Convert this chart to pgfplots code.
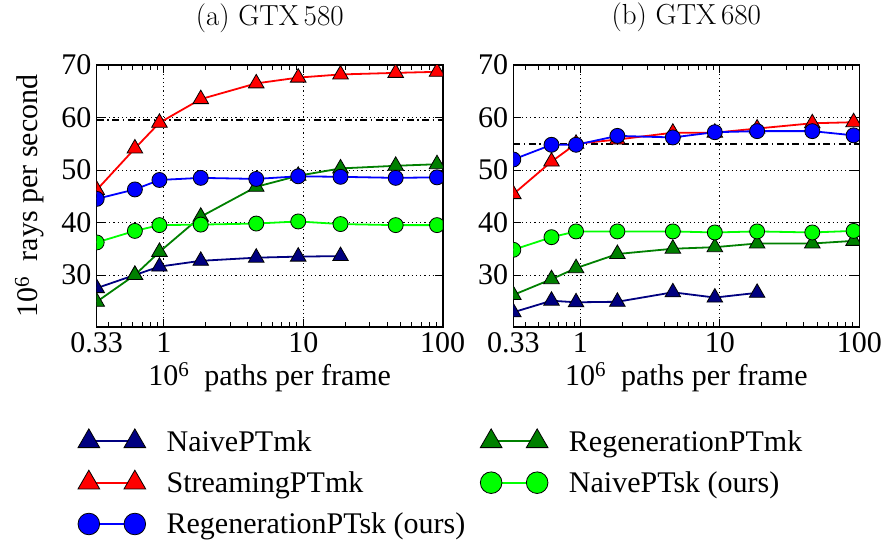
\documentclass[border=0pt]{standalone}
\usepackage{fontspec}
\usepackage{pgfplots}
\pgfplotsset{compat=1.18}
\newfontfamily\tnr{Liberation Serif}
\definecolor{navy}{RGB}{0,0,128}
\definecolor{dgreen}{RGB}{0,128,0}
\definecolor{mylime}{RGB}{0,255,0}
\definecolor{myred}{RGB}{255,0,0}
\definecolor{myblue}{RGB}{0,0,255}
\pgfplotsset{
  legend image code/.code={\draw[#1] plot coordinates {(0pt,0pt) (46pt,0pt)};},
  sNaive/.style={navy, line width=1.8pt, mark=triangle*, mark size=9pt, mark options={fill=navy, draw=black, line width=0.8pt}, legend image post style={mark size=12.5pt}},
  sRegMk/.style={dgreen, line width=1.8pt, mark=triangle*, mark size=9pt, mark options={fill=dgreen, draw=black, line width=0.8pt}, legend image post style={mark size=12.5pt}},
  sStream/.style={myred, line width=1.8pt, mark=triangle*, mark size=9pt, mark options={fill=myred, draw=black, line width=0.8pt}, legend image post style={mark size=12.5pt}},
  sNaiveSk/.style={mylime, line width=1.8pt, mark=*, mark size=7.5pt, mark options={fill=mylime, draw=black, line width=0.8pt}, legend image post style={mark size=10.8pt}},
  sRegSk/.style={myblue, line width=1.8pt, mark=*, mark size=7.5pt, mark options={fill=myblue, draw=black, line width=0.8pt}, legend image post style={mark size=10.8pt}},
  sRef/.style={black, line width=1.8pt, mark=none, dash pattern=on 7pt off 3.5pt on 1.5pt off 3.5pt, forget plot},
}
\begin{document}
\begin{tikzpicture}
\useasboundingbox (-96.7pt,-220.3pt) rectangle (788.3pt,326.7pt);
\begin{axis}[at={(0pt,0pt)}, anchor=south west,
    width=346pt, height=261.7pt, scale only axis,
    xmode=log, xmin=0.33, xmax=100, ymin=20.15, ymax=70,
    xtick={0.33,1,10,100}, xticklabels={0.33,1,10,100},
    minor xtick={0.4,0.5,0.6,0.7,0.8,0.9,2,3,4,5,6,7,8,9,20,30,40,50,60,70,80,90},
    ytick={30,40,50,60,70},
    xmajorgrids=true, ymajorgrids=true,
    major grid style={black, line width=0.8pt, dash pattern=on 1.2pt off 3pt},
    major tick length=8pt, minor tick length=4.5pt,
    every tick/.style={black, line width=0.9pt},
    axis line style={line width=1.6pt},
    tick label style={font=\tnr\fontsize{30}{36}\selectfont},
    xticklabel style={inner sep=6pt},
    yticklabel style={inner sep=5pt},
    /pgf/number format/assume math mode=true,
    clip marker paths=true,
    title style={font=\fontsize{29}{34}\selectfont, at={(axis description cs:0.5,1)}, anchor=base, yshift=34pt, inner sep=0pt},
    xlabel style={font=\tnr\fontsize{30}{36}\selectfont, at={(axis description cs:0.5,-0.223)}, anchor=base, inner sep=0pt},
  title={(a)~GTX\,580},
  xlabel={10\textsuperscript{6}\ \ paths per frame},
  ylabel={10\textsuperscript{6}\ \ rays per second},
  ylabel style={font=\tnr\fontsize{30}{36}\selectfont, at={(axis description cs:-0.17,0.5)}, anchor=base, inner sep=0pt},
  legend columns=2, legend cell align=left,
  legend style={at={(axis description cs:-0.054,-0.384)}, anchor=north west, draw=none, fill=none,
    inner sep=0pt, outer sep=0pt, font=\tnr\fontsize{30}{36}\selectfont, row sep=13pt,
    nodes={inner sep=3pt},
    /tikz/every odd column/.append style={column sep=18pt},
    /tikz/every even column/.append style={column sep=12pt}},
]
\addplot[sRef] coordinates {(0.33,59.5) (100,59.5)};
\addplot[sNaive] coordinates {(0.33,27.5)(0.62,30.0)(0.93,31.6)(1.84,32.7)(4.6,33.3)(9.2,33.5)(18.5,33.6)};
\addlegendentry{NaivePTmk}
\addplot[sRegMk] coordinates {(0.33,24.9)(0.62,30.0)(0.93,34.4)(1.84,41.1)(4.6,46.8)(9.2,48.9)(18.5,50.3)(46,50.8)(91,51.1)};
\addlegendentry{RegenerationPTmk}
\addplot[sStream] coordinates {(0.33,46.2)(0.62,54.1)(0.93,59.0)(1.84,63.5)(4.6,66.5)(9.2,67.6)(18.5,68.2)(46,68.5)(91,68.7)};
\addlegendentry{StreamingPTmk}
\addplot[sNaiveSk] coordinates {(0.33,36.2)(0.62,38.4)(0.93,39.5)(1.84,39.6)(4.6,39.8)(9.2,40.2)(18.5,39.7)(46,39.5)(91,39.5)};
\addlegendentry{NaivePTsk (ours)}
\addplot[sRegSk] coordinates {(0.33,44.5)(0.62,46.3)(0.93,48.1)(1.84,48.5)(4.6,48.3)(9.2,48.8)(18.5,48.7)(46,48.5)(91,48.6)};
\addlegendentry{RegenerationPTsk (ours)}
\end{axis}
\begin{axis}[at={(416.6pt,0pt)}, anchor=south west,
    width=346pt, height=261.7pt, scale only axis,
    xmode=log, xmin=0.33, xmax=100, ymin=20.15, ymax=70,
    xtick={0.33,1,10,100}, xticklabels={0.33,1,10,100},
    minor xtick={0.4,0.5,0.6,0.7,0.8,0.9,2,3,4,5,6,7,8,9,20,30,40,50,60,70,80,90},
    ytick={30,40,50,60,70},
    xmajorgrids=true, ymajorgrids=true,
    major grid style={black, line width=0.8pt, dash pattern=on 1.2pt off 3pt},
    major tick length=8pt, minor tick length=4.5pt,
    every tick/.style={black, line width=0.9pt},
    axis line style={line width=1.6pt},
    tick label style={font=\tnr\fontsize{30}{36}\selectfont},
    xticklabel style={inner sep=6pt},
    yticklabel style={inner sep=5pt},
    /pgf/number format/assume math mode=true,
    clip marker paths=true,
    title style={font=\fontsize{29}{34}\selectfont, at={(axis description cs:0.5,1)}, anchor=base, yshift=34pt, inner sep=0pt},
    xlabel style={font=\tnr\fontsize{30}{36}\selectfont, at={(axis description cs:0.5,-0.223)}, anchor=base, inner sep=0pt},
  title={(b)~GTX\,680},
  xlabel={10\textsuperscript{6}\ \ paths per frame},
]
\addplot[sRef] coordinates {(0.33,55.0) (100,55.0)};
\addplot[sNaive] coordinates {(0.33,22.9)(0.62,25.1)(0.93,24.8)(1.84,24.9)(4.6,26.7)(9.2,25.7)(18.5,26.6)};
\addplot[sRegMk] coordinates {(0.33,26.2)(0.62,29.2)(0.93,31.3)(1.84,34.0)(4.6,35.0)(9.2,35.3)(18.5,36.0)(46,36.0)(91,36.5)};
\addplot[sStream] coordinates {(0.33,45.4)(0.62,51.6)(0.93,55.0)(1.84,55.8)(4.6,57.1)(9.2,57.1)(18.5,57.9)(46,58.9)(91,59.1)};
\addplot[sNaiveSk] coordinates {(0.33,34.8)(0.62,37.2)(0.93,38.3)(1.84,38.3)(4.6,38.3)(9.2,38.1)(18.5,38.3)(46,38.1)(91,38.4)};
\addplot[sRegSk] coordinates {(0.33,52.0)(0.62,54.8)(0.93,54.8)(1.84,56.5)(4.6,56.2)(9.2,57.2)(18.5,57.4)(46,57.4)(91,56.6)};
\end{axis}
\end{tikzpicture}
\end{document}
